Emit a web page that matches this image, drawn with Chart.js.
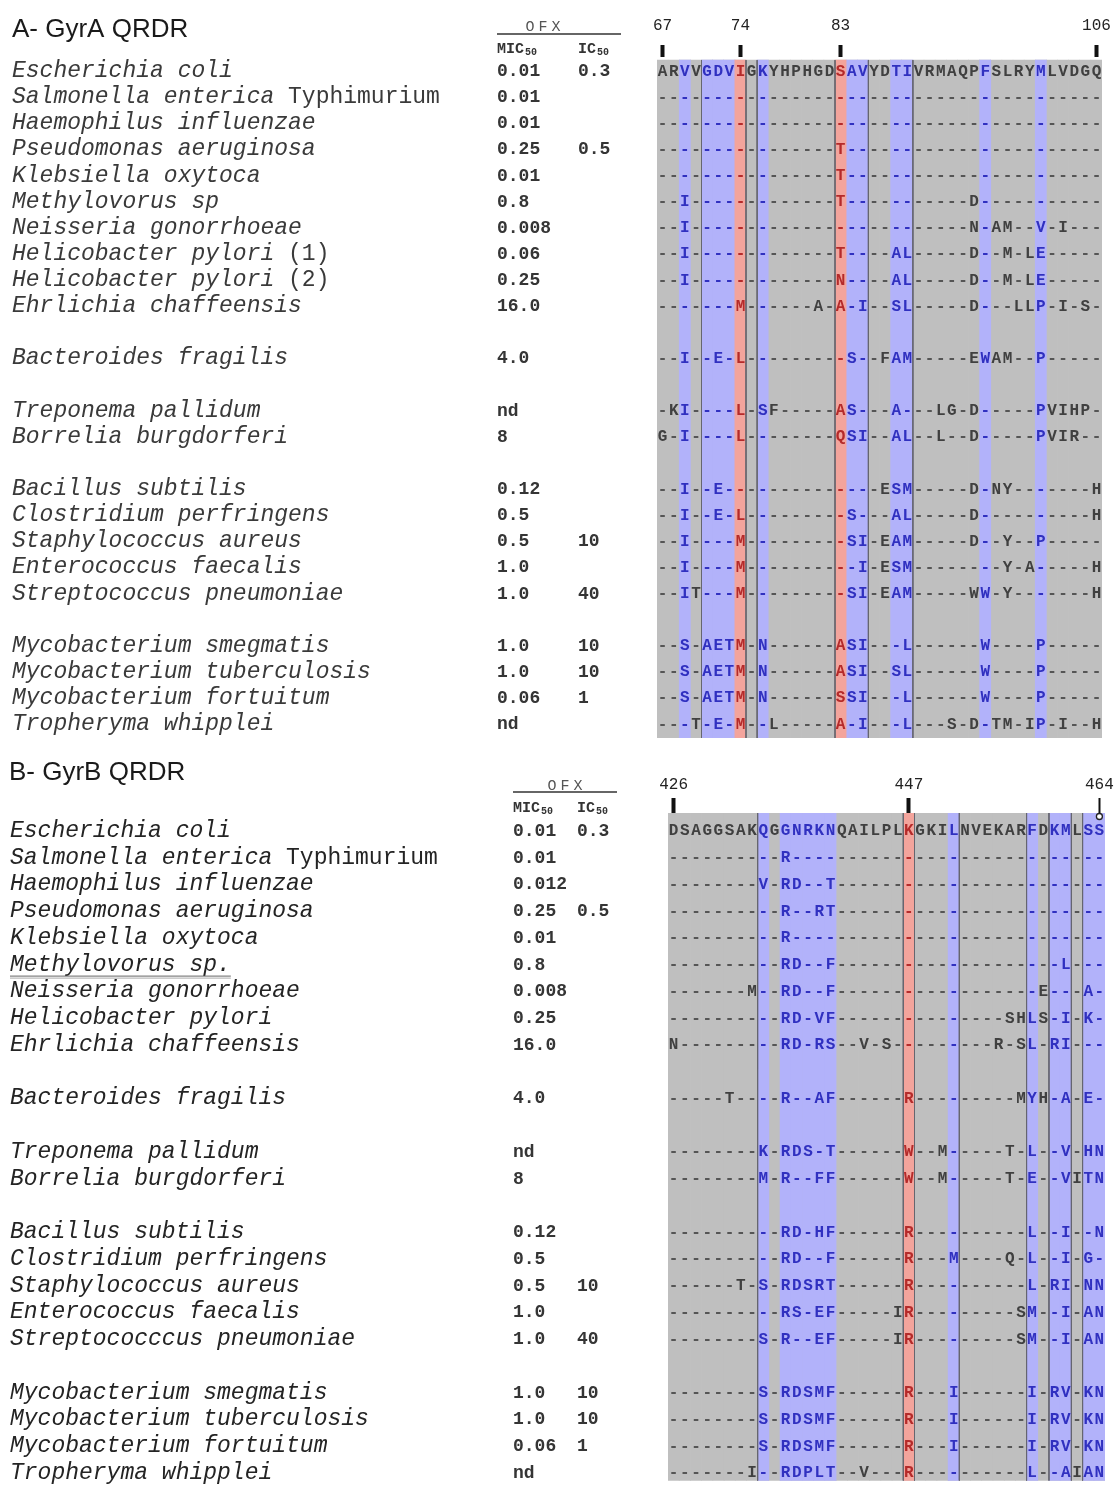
<!DOCTYPE html>
<html><head><meta charset="utf-8">
<script src="https://cdn.jsdelivr.net/npm/chart.js@4.4.1/dist/chart.umd.min.js"></script>
<style>
html,body{margin:0;padding:0;background:#fff;}
#wrap{position:relative;width:1115px;height:1486px;overflow:hidden;background:#fff;}
canvas{position:absolute;left:0;}
#cA{top:0;} #cB{top:745px;}
</style></head><body>
<div id="wrap"><canvas id="cA" width="1115" height="745"></canvas><canvas id="cB" width="1115" height="741"></canvas></div>
<script>
// ---------------- Panel A: GyrA QRDR ----------------
const speciesA = ["Escherichia coli","Salmonella enterica Typhimurium","Haemophilus influenzae","Pseudomonas aeruginosa","Klebsiella oxytoca","Methylovorus sp","Neisseria gonorrhoeae","Helicobacter pylori (1)","Helicobacter pylori (2)","Ehrlichia chaffeensis","","Bacteroides fragilis","","Treponema pallidum","Borrelia burgdorferi","","Bacillus subtilis","Clostridium perfringens","Staphylococcus aureus","Enterococcus faecalis","Streptococcus pneumoniae","","Mycobacterium smegmatis","Mycobacterium tuberculosis","Mycobacterium fortuitum","Tropheryma whipplei"];
const micA = ["0.01","0.01","0.01","0.25","0.01","0.8","0.008","0.06","0.25","16.0","","4.0","","nd","8","","0.12","0.5","0.5","1.0","1.0","","1.0","1.0","0.06","nd"];
const icA  = ["0.3","","","0.5","","","","","","","","","","","","","","","10","","40","","10","10","1",""];
const seqA = [
"ARVVGDVIGKYHPHGDSAVYDTIVRMAQPFSLRYMLVDGQ",
"----------------------------------------",
"----------------------------------------",
"----------------T-----------------------",
"----------------T-----------------------",
"--I-------------T-----------D-----------",
"--I-------------------------N-AM--V-I---",
"--I-------------T----AL-----D--M-LE-----",
"--I-------------N----AL-----D--M-LE-----",
"-------M------A-A-I--SL-----D---LLP-I-S-",
"",
"--I--E-L---------S--FAM-----EWAM--P-----",
"",
"-KI----L-SF-----AS---A---LG-D-----PVIHP-",
"G-I----L--------QSI--AL--L--D-----PVIR--",
"",
"--I--E--------------ESM-----D-NY-------H",
"--I--E-L---------S---AL-----D----------H",
"--I----M---------SI-EAM-----D--Y--P-----",
"--I----M----------I-ESM--------Y-A-----H",
"--IT---M---------SI-EAM-----WW-Y-------H",
"",
"--S-AETM-N------ASI---L------W----P-----",
"--S-AETM-N------ASI--SL------W----P-----",
"--S-AETM-N------SSI---L------W----P-----",
"---T-E-M--L-----A-I---L---S-D-TM-IP-I--H"];
const blueColsA = [2,4,5,6,9,17,18,21,22,29,34];
const redColsA  = [7,16];
const boundaryA = [3.5,7.5,8.5,15.5,18.5,22.5];
const tickColsA = [0,7,16,39];
const tickLabelsA = ["67","74","83","106"];

// ---------------- Panel B: GyrB QRDR ----------------
const speciesB = ["Escherichia coli","Salmonella enterica Typhimurium","Haemophilus influenzae","Pseudomonas aeruginosa","Klebsiella oxytoca","Methylovorus sp.","Neisseria gonorrhoeae","Helicobacter pylori","Ehrlichia chaffeensis","","Bacteroides fragilis","","Treponema pallidum","Borrelia burgdorferi","","Bacillus subtilis","Clostridium perfringens","Staphylococcus aureus","Enterococcus faecalis","Streptococccus pneumoniae","","Mycobacterium smegmatis","Mycobacterium tuberculosis","Mycobacterium fortuitum","Tropheryma whipplei"];
const micB = ["0.01","0.01","0.012","0.25","0.01","0.8","0.008","0.25","16.0","","4.0","","nd","8","","0.12","0.5","0.5","1.0","1.0","","1.0","1.0","0.06","nd"];
const icB  = ["0.3","","","0.5","","","","","","","","","","","","","","10","","40","","10","10","1",""];
const seqB = [
"DSAGGSAKQGGNRKNQAILPLKGKILNVEKARFDKMLSS",
"----------R----------------------------",
"--------V-RD--T------------------------",
"----------R--RT------------------------",
"----------R----------------------------",
"----------RD--F--------------------L---",
"-------M--RD--F------------------E---A-",
"----------RD-VF---------------SHLS-I-K-",
"N---------RD-RS--V-S---------R-SL-RI---",
"",
"-----T----R--AF------R---------MYH-A-E-",
"",
"--------K-RDS-T------W--M-----T-L--V-HN",
"--------M-R--FF------W--M-----T-E--VITN",
"",
"----------RD-HF------R----------L--I--N",
"----------RD--F------R---M----Q-L--I-G-",
"------T-S-RDSRT------R----------L-RI-NN",
"----------RS-EF-----IR---------SM--I-AN",
"--------S-R--EF-----IR---------SM--I-AN",
"",
"--------S-RDSMF------R---I------I-RV-KN",
"--------S-RDSMF------R---I------I-RV-KN",
"--------S-RDSMF------R---I------I-RV-KN",
"-------I--RDPLT--V---R----------L--AIAN"];
const blueColsB = [8,10,11,12,13,14,25,32,34,35,37,38];
const redColsB  = [21];
const boundaryB = [7.5,20.5,21.5,25.5,31.5,33.5,35.5,36.5];
const tickColsB = [0,21,38];
const tickLabelsB = ["426","447","464"];
const underlinedB = ["Methylovorus sp."];

const uprightWords = ["Typhimurium","(1)","(2)"];

// ---------------- styles ----------------
const GRAY = '#bfbfbf', BLUE = '#b2b2fa', RED = '#f3a49c', LINEC = '#66666f';
const TXT = '#404040', DASH = '#555555', BLUE_TXT = '#3030c0', RED_TXT = '#b52a2a';
const MONO = '"Liberation Mono", "Courier New", monospace';
const SANS = '"Liberation Sans", Arial, sans-serif';

const layoutA = {yMin:-0.5, yMax:25.57, gTop:-0.38, axisH:57, tickLen:12, tickPad:10, padL:657, padR:13, padB:7,
  nameX:12, micX:497, icX:578, nameColor:'#3a3a3a', title:'A- GyrA QRDR', titleX:12, titleY:37,
  ofxX:543, ofxY:31, ofxLine:[497,621,34], hdrY:53, thinTick:-1, circles:false};
const layoutB = {yMin:-0.63, yMax:24.33, gTop:-0.63, axisH:68, tickLen:15, tickPad:4, padL:668, padR:10, padB:0,
  nameX:10, micX:513, icX:577, nameColor:'#242424', title:'B- GyrB QRDR', titleX:9, titleY:35,
  ofxX:565, ofxY:45, ofxLine:[513,617,47], hdrY:67, thinTick:2, circles:true};

function drawName(ctx, name, x, y) {
  const parts = name.split(' ');
  let cx = x;
  parts.forEach((w) => {
    const up = uprightWords.includes(w);
    ctx.font = (up ? '' : 'italic ') + '23px ' + MONO;
    const space = ctx.measureText(' ').width;
    ctx.fillText(w, cx, y);
    cx += ctx.measureText(w).width + space;
  });
}

function makePanel(canvasId, seqs, species, mic, ic, blueCols, redCols, boundary, tickCols, tickLabels, L) {
  const nCols = seqs[0].length;
  const gBot = L.yMax;
  const colCells = seqs[0].split('').map((_, c) => ({x: c, y: [L.gTop, gBot]}));
  const lineData = [];
  boundary.forEach(b => { lineData.push({x:b, y:L.gTop}, {x:b, y:gBot}, {x:b, y:null}); });
  const datasets = [
    {type:'line', data: lineData, borderColor: LINEC, borderWidth: 1, pointRadius: 0, spanGaps: false, order: 0},
    {type:'bar', data: redCols.map(c => ({x:c, y:[L.gTop, gBot]})), backgroundColor: RED, grouped:false, barPercentage:1, categoryPercentage:1, borderWidth:0, order: 1},
    {type:'bar', data: blueCols.map(c => ({x:c, y:[L.gTop, gBot]})), backgroundColor: BLUE, grouped:false, barPercentage:1, categoryPercentage:1, borderWidth:0, order: 2},
    {type:'bar', data: colCells, backgroundColor: GRAY, grouped:false, barPercentage:1, categoryPercentage:1, borderWidth:0, order: 3}
  ];
  if (L.circles) {
    const last = tickCols[tickCols.length - 1];
    datasets.push({type:'line', data:[{x:last, y:L.yMin + 0.13}, {x:last, y:L.yMin - 0.57}], showLine:false, pointRadius:3,
      pointBackgroundColor:'#ffffff', pointBorderColor:'#222', pointBorderWidth:1.3, clip:false, order:-1});
  }
  const plugin = {
    id: 'seqText' + canvasId,
    afterDatasetsDraw(chart) {
      const ctx = chart.ctx, xs = chart.scales.x, ys = chart.scales.y;
      ctx.save();
      ctx.font = 'bold 16px ' + MONO;
      ctx.textAlign = 'center'; ctx.textBaseline = 'alphabetic';
      seqs.forEach((s, r) => {
        if (!s) return;
        const y = ys.getPixelForValue(r) + 5.5;
        for (let c = 0; c < s.length; c++) {
          const ch = s[c];
          ctx.fillStyle = redCols.includes(c) ? RED_TXT : blueCols.includes(c) ? BLUE_TXT : (ch === '-' ? DASH : TXT);
          ctx.fillText(ch, xs.getPixelForValue(c), y);
        }
      });
      ctx.restore();
    },
    afterDraw(chart) {
      const ctx = chart.ctx, ys = chart.scales.y;
      ctx.save();
      ctx.textBaseline = 'alphabetic'; ctx.textAlign = 'left';
      // title
      ctx.fillStyle = '#1a1a1a';
      ctx.font = '26px ' + SANS;
      ctx.fillText(L.title, L.titleX, L.titleY);
      // OFX header
      ctx.fillStyle = '#555';
      ctx.font = '15px ' + MONO;
      ctx.textAlign = 'center';
      ctx.letterSpacing = '4px';
      ctx.fillText('OFX', L.ofxX + 2, L.ofxY);
      ctx.letterSpacing = '0px';
      ctx.strokeStyle = '#333'; ctx.lineWidth = 1.5;
      ctx.beginPath(); ctx.moveTo(L.ofxLine[0], L.ofxLine[2]); ctx.lineTo(L.ofxLine[1], L.ofxLine[2]); ctx.stroke();
      ctx.textAlign = 'left';
      ctx.fillStyle = '#333';
      [[L.micX, 'MIC'], [L.icX, 'IC']].forEach(([x, t]) => {
        ctx.font = 'bold 15px ' + MONO;
        ctx.fillText(t, x, L.hdrY);
        const w = ctx.measureText(t).width;
        ctx.font = 'bold 10px ' + MONO;
        ctx.fillText('50', x + w + 1, L.hdrY + 2);
      });
      // species names and values
      species.forEach((name, r) => {
        if (!name) return;
        const y = ys.getPixelForValue(r);
        ctx.fillStyle = L.nameColor;
        drawName(ctx, name, L.nameX, y + 7);
        if (underlinedB.includes(name) && canvasId === 'cB') {
          ctx.font = 'italic 23px ' + MONO;
          const w = ctx.measureText(name).width;
          ctx.strokeStyle = '#666'; ctx.lineWidth = 1;
          ctx.beginPath(); ctx.moveTo(L.nameX, y + 12.5); ctx.lineTo(L.nameX + w, y + 12.5); ctx.stroke();
          ctx.strokeStyle = '#aaa';
          ctx.beginPath(); ctx.moveTo(L.nameX, y + 14.5); ctx.lineTo(L.nameX + w, y + 14.5); ctx.stroke();
        }
        ctx.fillStyle = '#353535';
        ctx.font = 'bold 18px ' + MONO;
        if (mic[r]) ctx.fillText(mic[r], L.micX, y + 6);
        if (ic[r]) ctx.fillText(ic[r], L.icX, y + 6);
      });
      ctx.restore();
    }
  };
  return new Chart(document.getElementById(canvasId), {
    type: 'bar',
    data: { datasets },
    options: {
      responsive: false, devicePixelRatio: 1, animation: false, events: [],
      layout: { padding: { left: L.padL, right: L.padR, top: 0, bottom: L.padB } },
      plugins: { legend: { display: false }, tooltip: { enabled: false } },
      scales: {
        x: {
          type: 'linear', position: 'top', min: -0.5, max: nCols - 0.5, offset: false,
          afterBuildTicks: ax => { ax.ticks = tickCols.map(v => ({ value: v })); },
          afterFit: ax => { ax.height = L.axisH; ax.paddingLeft = 0; ax.paddingRight = 0; },
          ticks: { autoSkip: false, maxRotation: 0, padding: L.tickPad, color: '#222',
                   font: { family: 'Liberation Mono', size: 16 },
                   callback: (v, i) => tickLabels[i] },
          grid: { drawOnChartArea: false, drawTicks: true, offset: false, tickLength: L.tickLen,
                  tickWidth: ctx => (ctx.index === L.thinTick ? 2 : 4), tickColor: '#111' },
          border: { display: false }
        },
        y: { type: 'linear', reverse: true, min: L.yMin, max: L.yMax, display: false }
      }
    },
    plugins: [plugin]
  });
}

makePanel('cA', seqA, speciesA, micA, icA, blueColsA, redColsA, boundaryA, tickColsA, tickLabelsA, layoutA);
makePanel('cB', seqB, speciesB, micB, icB, blueColsB, redColsB, boundaryB, tickColsB, tickLabelsB, layoutB);
</script></body></html>
